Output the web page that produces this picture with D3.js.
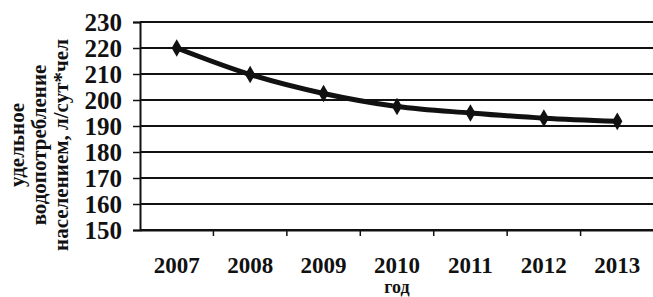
<!DOCTYPE html>
<html>
<head>
<meta charset="utf-8">
<script src="https://cdn.jsdelivr.net/npm/d3@7"></script>
<style>
  body { margin: 0; background: #fff; }
  svg text { font-family: "Liberation Serif", "DejaVu Serif", serif; font-weight: bold; fill: #111; }
</style>
</head>
<body>
<svg id="chart" width="653" height="297"></svg>
<script>
let years = ["2007", "2008", "2009", "2010", "2011", "2012", "2013"]
let consumption = [220, 209.8, 202.5, 197.5, 195, 193, 191.8]
let yTicks = [150, 160, 170, 180, 190, 200, 210, 220, 230]
let yTitle = ["удельное", "водопотребление", "населением, л/сут*чел"]
let xTitle = "год"

let svg = d3.select("#chart")

let x = d3.scaleBand().domain(years).range([140, 654])
let y = d3.scaleLinear().domain([150, 230]).range([230, 22])

// horizontal grid lines
svg.append("g")
    .selectAll("line")
    .data(yTicks)
    .enter()
    .append("line")
    .attr("x1", 140)
    .attr("x2", 653)
    .attr("y1", (d) => y(d))
    .attr("y2", (d) => y(d))
    .attr("stroke", "#111")
    .attr("stroke-width", 2)

// y axis
let yAxis = d3.axisLeft(y).tickValues(yTicks).tickSize(7).tickPadding(11)
let gy = svg.append("g").attr("transform", "translate(140,0)").call(yAxis)
gy.select(".domain").attr("stroke", "#111").attr("stroke-width", 2)
gy.selectAll(".tick line").attr("stroke", "#111").attr("stroke-width", 1.5)
gy.selectAll("text").style("font-size", "25px").attr("dy", "0.34em")

// x axis
let xAxis = d3.axisBottom(x).tickSize(0).tickPadding(27)
let gx = svg.append("g").attr("transform", "translate(0,230)").call(xAxis)
gx.select(".domain").attr("stroke", "#111").attr("stroke-width", 2)
gx.selectAll("text").style("font-size", "23px")
// category boundary ticks
gx.selectAll(".sep")
    .data(years.slice(1))
    .enter()
    .append("line")
    .attr("class", "sep")
    .attr("x1", (d) => x(d))
    .attr("x2", (d) => x(d))
    .attr("y1", 0)
    .attr("y2", 6)
    .attr("stroke", "#111")
    .attr("stroke-width", 1.5)

// line
let line = d3.line()
    .x((d, i) => x(years[i]) + x.bandwidth() / 2)
    .y((d) => y(d))
    .curve(d3.curveMonotoneX)

svg.append("path")
    .datum(consumption)
    .attr("d", line)
    .attr("fill", "none")
    .attr("stroke", "#111")
    .attr("stroke-width", 5)

svg.selectAll(".marker")
    .data(consumption)
    .enter()
    .append("path")
    .attr("class", "marker")
    .attr("d", d3.symbol().type(d3.symbolDiamond).size(90))
    .attr("transform", (d, i) => "translate(" + (x(years[i]) + x.bandwidth() / 2) + "," + y(d) + ")")
    .attr("fill", "#111")

// y title
svg.append("g")
    .attr("transform", "translate(0,145) rotate(-90)")
    .selectAll("text")
    .data(yTitle)
    .enter()
    .append("text")
    .attr("x", 0)
    .attr("y", (d, i) => 24 + i * 22)
    .attr("text-anchor", "middle")
    .style("font-size", "21px")
    .text((d) => d)

// x title
svg.append("text")
    .attr("x", 397)
    .attr("y", 293)
    .attr("text-anchor", "middle")
    .style("font-size", "18px")
    .text(xTitle)
</script>
</body>
</html>
